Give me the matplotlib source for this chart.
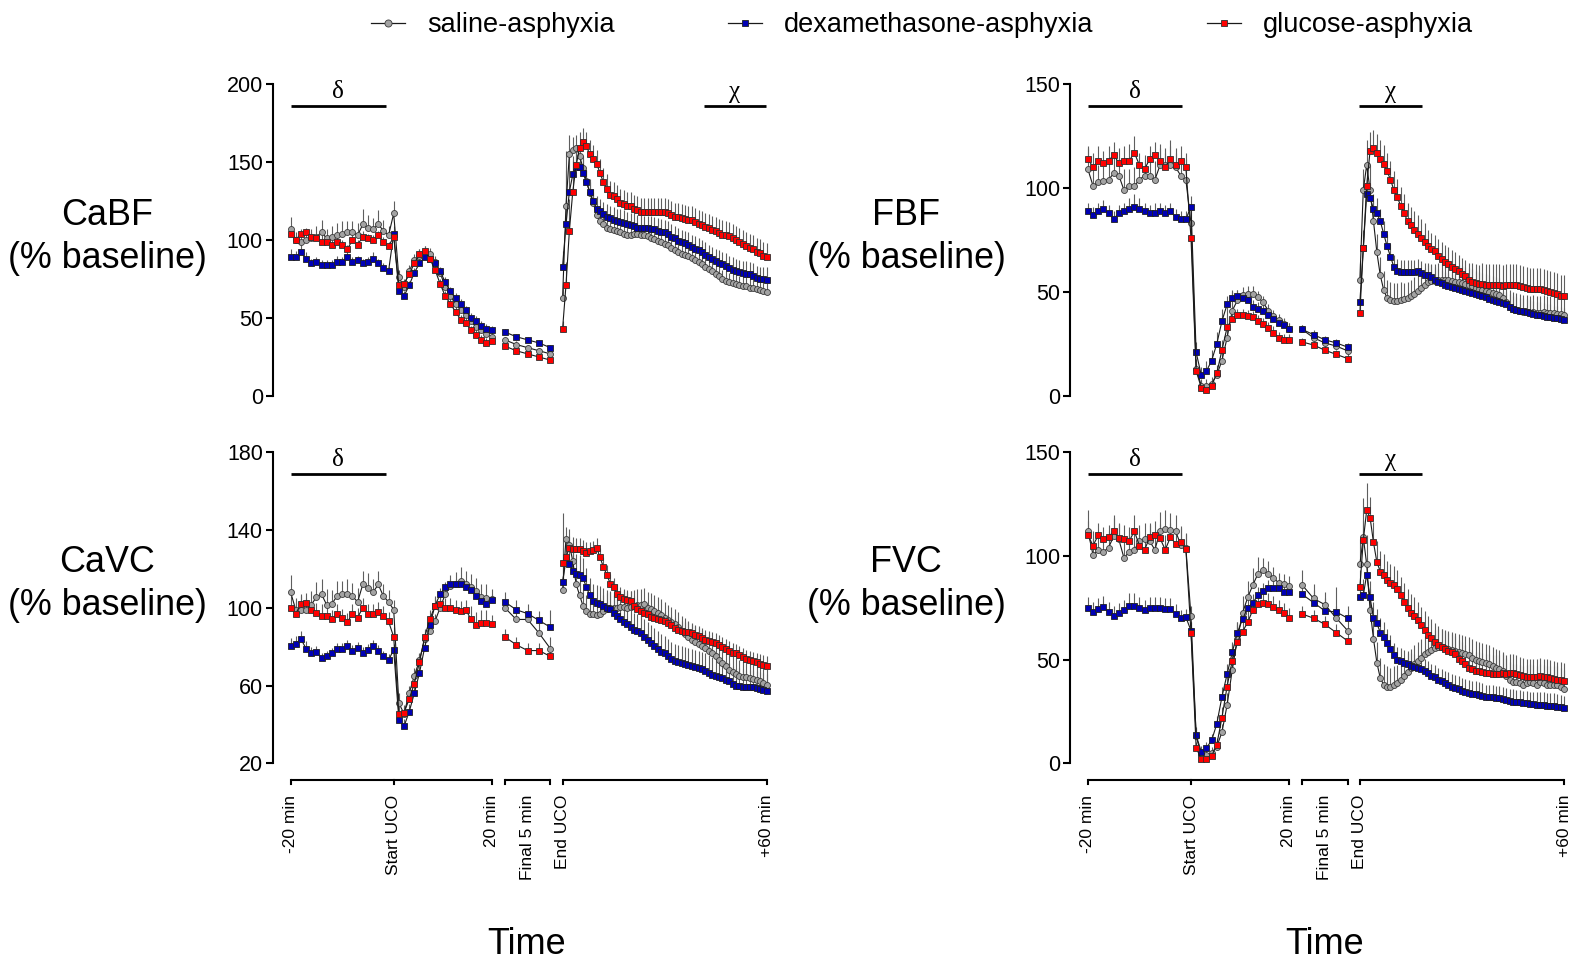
import matplotlib
matplotlib.use("Agg")
import matplotlib.pyplot as plt
from matplotlib.lines import Line2D

plt.rcParams['font.family'] = ['Liberation Sans', 'DejaVu Sans']

# ---------------- time bases ----------------
bu_minutes = list(range(-20, 20))      # baseline (-20..0) + UCO (1..19)
f5_index = [0, 1, 2, 3, 4]             # final 5 min of UCO
rec_minutes = list(range(0, 61))       # recovery 0..60 min

series_names = ["saline-asphyxia", "dexamethasone-asphyxia", "glucose-asphyxia"]

# ---------------- CaBF ----------------
cabf_saline_bu = [107, 100, 99, 100, 101, 102, 105, 101, 102, 103, 104, 105, 105, 103, 110, 108, 107, 110, 106, 103, 117,
                  76, 70, 80, 87, 90, 92, 91, 86, 79, 70, 64, 59, 55, 52, 48, 44, 42, 40, 38]
cabf_dex_bu = [89, 89, 92, 88, 85, 86, 84, 84, 84, 86, 86, 89, 86, 87, 85, 86, 88, 85, 82, 80, 104,
               67, 64, 71, 79, 85, 89, 88, 85, 80, 73, 67, 63, 59, 55, 50, 48, 45, 43, 42]
cabf_glu_bu = [104, 100, 104, 105, 102, 101, 99, 99, 97, 99, 97, 94, 100, 97, 102, 101, 100, 103, 99, 96, 102,
               71, 72, 78, 85, 91, 93, 88, 81, 72, 64, 59, 54, 49, 47, 42, 39, 36, 34, 35]
cabf_saline_f5 = [36, 33, 31, 29, 27]
cabf_dex_f5 = [41, 38, 36, 34, 31]
cabf_glu_f5 = [32, 29, 27, 25, 23]
cabf_saline_rec = [63, 122, 155, 158, 159, 154, 146, 138, 130, 124,
                   116, 112, 110, 108, 107, 106.5, 106, 105, 104, 103,
                   103, 104, 104, 103.5, 103, 102.5, 101.5, 100.5, 99.5, 98.5,
                   97.5, 96.5, 95, 93.5, 92, 91, 90.3, 89.5, 88.5, 87,
                   86, 84.5, 83, 81.5, 80, 78.5, 77, 75, 74, 73,
                   72.3, 71.7, 71.2, 70.8, 70.2, 69.5, 69, 68.7, 68, 67.3,
                   66.5]
cabf_dex_rec = [83, 110, 131, 142, 147, 147, 143, 137, 131, 125,
                120, 118.5, 116.5, 115, 114, 113, 112, 111.6, 111, 110,
                109.5, 109, 108, 108, 107.7, 107.5, 107.3, 107, 106, 105.3,
                105, 104, 102, 101, 99.5, 98.5, 97.8, 97, 95.5, 94.5,
                93.5, 92, 90.5, 89, 87.5, 86.5, 85.5, 84.5, 83.5, 82,
                81, 80, 79.3, 78.8, 78.5, 78, 77, 75.5, 75, 75,
                74.5]
cabf_glu_rec = [43, 71, 106, 131, 148, 159, 163, 160, 155, 152,
                149, 143, 137, 133, 129, 128, 126, 124, 123, 122,
                122, 120, 119, 118, 118, 118, 118, 118, 118, 118,
                118, 117, 116, 115, 114.5, 114, 113.5, 113, 112.5, 111.5,
                110.5, 109.5, 108.5, 107.5, 106.5, 105.5, 104.5, 103.5, 103, 102.5,
                101.5, 100, 99, 97.5, 96, 95, 94, 92.5, 91.5, 90,
                89]
cabf_saline_bu_sem = [8, 5, 6, 5, 6, 7, 8, 6, 7, 8, 8, 7, 7, 8, 10, 8, 7, 9, 7, 6, 8,
                      5, 4, 4, 4, 4, 4, 4, 4, 3, 3, 3, 3, 3, 3, 3, 3, 3, 3, 3]
cabf_dex_bu_sem = [5, 4, 5, 4, 3, 3, 3, 3, 3, 4, 3, 4, 3, 3, 3, 3, 4, 3, 3, 3, 5,
                   3, 3, 3, 3, 3, 3, 3, 3, 3, 3, 3, 3, 3, 3, 3, 3, 3, 3, 3]
cabf_glu_bu_sem = [4, 3, 3, 3, 3, 3, 4, 3, 3, 3, 3, 3, 3, 3, 4, 3, 3, 3, 3, 3, 4,
                   3, 3, 3, 3, 3, 3, 3, 3, 3, 3, 3, 3, 3, 3, 3, 3, 3, 3, 3]
cabf_saline_f5_sem = [2, 2, 2, 2, 2]
cabf_dex_f5_sem = [2, 2, 2, 2, 2]
cabf_glu_f5_sem = [2, 2, 2, 2, 2]
cabf_saline_rec_sem = [10, 35, 12, 8, 8, 8, 8, 7, 7, 7,
                       7, 7, 7, 7, 7, 7, 7, 7, 7, 7,
                       7, 7, 7, 7, 7, 7, 7, 7, 7, 7,
                       6, 6, 6, 6, 6, 6, 6, 6, 6, 6,
                       6, 6, 6, 6, 6, 6, 6, 6, 6, 6,
                       6, 6, 6, 6, 6, 6, 6, 6, 6, 6,
                       6]
cabf_dex_rec_sem = [10, 35, 25, 12, 10, 9, 9, 8, 8, 8,
                    8, 8, 8, 8, 8, 8, 8, 8, 8, 8,
                    8, 8, 8, 8, 8, 8, 8, 8, 8, 8,
                    8, 8, 8, 8, 8, 8, 8, 8, 8, 8,
                    8, 8, 8, 8, 8, 8, 8, 8, 8, 8,
                    8, 8, 8, 8, 8, 8, 8, 8, 8, 8,
                    8]
cabf_glu_rec_sem = [5, 15, 20, 20, 12, 10, 9, 9, 9, 9,
                    9, 9, 9, 9, 9, 9, 9, 9, 9, 9,
                    9, 9, 9, 9, 9, 9, 9, 9, 9, 9,
                    9, 9, 9, 9, 9, 9, 9, 9, 9, 9,
                    9, 9, 9, 9, 9, 9, 9, 9, 9, 9,
                    9, 9, 9, 9, 9, 9, 9, 9, 9, 9,
                    9]

# ---------------- FBF ----------------
fbf_saline_bu = [109, 101, 103, 103.5, 104, 107, 106, 99, 101, 101, 104, 106, 106, 104, 111, 111, 111, 110, 106, 104, 83,
                 13, 5, 5, 6, 10, 17, 28, 41, 46, 48.5, 49, 49, 47.5, 45, 41, 38.5, 36.5, 34.5, 32]
fbf_dex_bu = [89, 87, 89, 90, 88, 85, 88, 89, 90, 91, 90, 89, 88, 88, 89, 88, 89, 86, 85, 85, 91,
              21, 10, 12, 17, 25, 36, 44, 47, 48, 47, 46, 43, 42, 41, 39, 37, 35, 34, 32]
fbf_glu_bu = [114, 110, 113, 112, 113, 116, 112, 113, 113, 117, 111, 109, 114, 116, 113, 110, 114, 111, 113, 110, 76,
              12, 4, 3, 5, 11, 22, 33, 37, 39, 39, 38.5, 38, 36, 34.5, 32.5, 30.5, 28, 27, 27]
fbf_saline_f5 = [32, 28, 25.5, 24, 21.7]
fbf_dex_f5 = [32, 29.5, 27, 25.5, 23.5]
fbf_glu_f5 = [26, 24.5, 22, 20, 18]
fbf_saline_rec = [56, 99, 111, 99, 84, 69, 58, 51, 47, 46,
                  45.5, 45.5, 46, 46.5, 47, 48, 49, 50.5, 52, 53.5,
                  55, 55.5, 55.5, 56, 56, 56, 56, 55.5, 55, 55,
                  54.5, 54, 53.5, 53, 52, 51.5, 51, 50.5, 50, 49.5,
                  49, 48.5, 47, 45, 43, 42, 41.5, 41, 40.5, 40.5,
                  40, 40.5, 40, 40, 40.5, 40, 40, 40, 39.5, 39.5,
                  39]
fbf_dex_rec = [45, 71, 97, 95, 90, 88, 84, 78, 72, 67,
               62, 60, 59.5, 59.5, 59.5, 59.5, 59.5, 60, 59, 58,
               58, 57, 56, 55, 54.5, 53.5, 53, 52.5, 52, 51.5,
               51, 50.5, 50, 49.5, 49, 48.5, 48, 47.5, 46.5, 46,
               45.5, 45, 44.5, 44, 43, 42, 41.5, 41, 41, 40.5,
               40, 39.5, 39, 39, 38.5, 38, 38, 37.5, 37.5, 37,
               36.5]
fbf_glu_rec = [40, 71, 101, 118, 119, 117, 114, 111.5, 108, 104,
               99, 95.5, 91.5, 88, 84, 82, 80, 78, 76, 74,
               72, 70.5, 69.5, 67.5, 66, 64.5, 63.5, 62, 61, 60,
               58.5, 57.5, 56, 55, 54.5, 54, 54, 53.5, 53.5, 53.5,
               53.5, 53.5, 53, 53.5, 53.5, 53.5, 53.5, 53, 52.5, 52,
               51.5, 51.5, 51.5, 51.5, 51, 50.5, 50, 49.5, 49, 48,
               48]
fbf_saline_bu_sem = [10, 8, 8, 7, 8, 9, 8, 10, 8, 9, 8, 7, 8, 9, 10, 8, 12, 9, 9, 10, 8,
                     5, 3, 3, 3, 3, 4, 15, 10, 5, 4, 4, 4, 3, 3, 3, 3, 3, 3, 3]
fbf_dex_bu_sem = [4, 4, 4, 4, 4, 4, 4, 4, 5, 6, 5, 4, 4, 5, 4, 4, 4, 4, 4, 4, 5,
                  5, 4, 5, 5, 6, 6, 4, 3, 3, 3, 3, 3, 3, 3, 3, 3, 3, 3, 3]
fbf_glu_bu_sem = [6, 7, 7, 6, 7, 6, 7, 7, 8, 8, 6, 7, 6, 6, 6, 7, 6, 6, 7, 7, 6,
                  4, 3, 3, 3, 4, 5, 5, 4, 3, 3, 3, 3, 3, 3, 3, 3, 3, 3, 3]
fbf_saline_f5_sem = [2, 2, 2, 2, 2]
fbf_dex_f5_sem = [2, 2, 2, 2, 2]
fbf_glu_f5_sem = [2, 2, 2, 2, 2]
fbf_saline_rec_sem = [8, 10, 12, 12, 10, 9, 9, 9, 9, 9,
                      9, 9, 9, 8, 8, 8, 8, 8, 8, 8,
                      8, 8, 8, 8, 8, 8, 8, 8, 8, 8,
                      8, 8, 8, 8, 8, 8, 8, 8, 8, 8,
                      8, 8, 8, 8, 8, 8, 8, 8, 8, 8,
                      8, 8, 8, 8, 8, 8, 8, 8, 8, 8,
                      8]
fbf_dex_rec_sem = [5, 8, 8, 7, 7, 7, 6, 6, 6, 6,
                   6, 6, 6, 6, 6, 6, 6, 6, 6, 6,
                   6, 6, 6, 6, 6, 6, 6, 6, 6, 6,
                   6, 6, 6, 6, 6, 6, 6, 6, 6, 6,
                   6, 6, 6, 6, 6, 6, 6, 6, 6, 6,
                   6, 6, 6, 6, 6, 6, 6, 6, 6, 6,
                   6]
fbf_glu_rec_sem = [5, 9, 9, 9, 9, 9, 9, 9, 9, 9,
                   9, 9, 9, 9, 9, 9, 9, 9, 9, 9,
                   8, 8, 8, 8, 8, 8, 8, 8, 8, 8,
                   8, 8, 8, 9, 9, 9, 10, 10, 10, 10,
                   10, 10, 10, 10, 10, 10, 10, 10, 10, 10,
                   10, 10, 10, 10, 10, 10, 10, 10, 10, 10,
                   10]

# ---------------- CaVC ----------------
cavc_saline_bu = [108, 99, 99, 99, 101.5, 105.5, 107, 101.5, 102, 106, 107, 107, 106, 103, 112, 110, 108, 112, 106, 103, 99,
                  51, 45.5, 56, 65, 73, 84, 88, 93, 100, 107, 111, 112.5, 114, 112, 110.5, 108.5, 105.5, 105, 104.5]
cavc_dex_bu = [80.5, 81.5, 84, 79, 77, 77.5, 74, 75, 76.5, 79, 79, 80.5, 78, 79.5, 77, 78.5, 80.5, 78, 75, 73, 78.5,
               42.5, 39, 46.5, 56, 66.5, 79.5, 91, 101, 107, 110.5, 112, 112, 112, 110.5, 109, 106, 103.5, 102, 104]
cavc_glu_bu = [100, 97, 102, 102.5, 99, 97.5, 96, 96, 94, 97, 94.5, 92.5, 97, 95, 100, 97, 97, 98, 96, 93, 85,
               45.5, 46, 53, 61, 72, 85, 94, 101, 102, 100, 100, 99, 98.5, 99, 94, 91, 92, 92, 91.5]
cavc_saline_f5 = [100, 94, 94, 87, 79]
cavc_dex_f5 = [103, 99, 97, 93.5, 90]
cavc_glu_f5 = [85, 81, 78, 78, 75]
cavc_saline_rec = [109, 135.5, 132.5, 124, 112, 106.5, 101, 98.5, 97, 97,
                   96.5, 97, 98.5, 99.5, 100, 100, 100, 100.5, 100.5, 100,
                   100.5, 101, 101.5, 101.5, 102, 100, 99.5, 98.5, 97.5, 96.5,
                   95, 93.5, 92.5, 91.5, 90, 88, 86.5, 85, 83.5, 82.5,
                   81.5, 80.5, 79.5, 78, 76.5, 75, 73, 71.5, 70, 68,
                   67, 66, 65, 64.5, 64.5, 64, 63.5, 63, 62.5, 61.5,
                   60.5]
cavc_dex_rec = [113.5, 124.5, 122.5, 119, 117.5, 117, 115.5, 110.5, 106.5, 103.5,
                102.5, 102, 101, 100, 99.5, 97.5, 96, 94, 92.5, 91.5,
                90, 88.5, 88, 87, 85, 83.5, 82, 80.5, 79, 77.5,
                76.5, 75, 73.5, 72.5, 72, 71.5, 71, 70.5, 70, 69.5,
                69, 68.5, 67.5, 66.5, 65.5, 65, 64.5, 64, 63, 62.5,
                61, 60, 60, 59.5, 59, 59, 59, 58.5, 58, 57.5,
                57]
cavc_glu_rec = [123, 126, 131, 130.5, 130, 130, 129, 128, 129, 129.5,
                131, 126, 121, 117, 112.5, 110.5, 107, 105.5, 104.5, 104,
                103.5, 101, 99.5, 98.5, 97.5, 97, 95.5, 94.5, 94, 93.5,
                93, 92, 91, 89.5, 88.5, 88, 87.5, 87.5, 87, 86,
                85.5, 84.5, 83.5, 83, 82.5, 82, 81, 80, 79, 78,
                77, 76.5, 75.5, 74.5, 73.5, 73, 72.5, 72, 71, 70.5,
                70]
cavc_saline_bu_sem = [9, 6, 7, 6, 7, 8, 8, 8, 7, 8, 7, 8, 7, 7, 7, 8, 7, 7, 6, 6, 5,
                      5, 4, 4, 4, 4, 4, 4, 4, 5, 5, 6, 6, 7, 7, 7, 7, 7, 7, 5]
cavc_dex_bu_sem = [4, 4, 4, 4, 3, 3, 3, 3, 3, 3, 3, 3, 3, 3, 3, 3, 3, 3, 3, 3, 3,
                   4, 4, 4, 4, 4, 4, 4, 4, 3, 3, 3, 3, 3, 3, 3, 3, 3, 3, 3]
cavc_glu_bu_sem = [6, 6, 5, 5, 5, 5, 6, 6, 5, 5, 5, 5, 5, 5, 5, 5, 5, 5, 5, 5, 5,
                   4, 4, 4, 4, 4, 4, 5, 5, 5, 5, 5, 5, 5, 5, 7, 7, 7, 7, 5]
cavc_saline_f5_sem = [5, 5, 5, 5, 6]
cavc_dex_f5_sem = [5, 5, 5, 5, 9]
cavc_glu_f5_sem = [4, 4, 4, 4, 4]
cavc_saline_rec_sem = [40, 6, 8, 8, 8, 8, 8, 8, 8, 8,
                       8, 8, 8, 8, 8, 8, 8, 8, 8, 8,
                       8, 8, 8, 8, 8, 8, 8, 8, 8, 8,
                       8, 8, 8, 8, 8, 8, 8, 8, 8, 8,
                       8, 8, 8, 8, 8, 8, 8, 8, 8, 8,
                       8, 8, 8, 8, 8, 8, 8, 8, 8, 8,
                       8]
cavc_dex_rec_sem = [10, 10, 10, 10, 10, 10, 10, 10, 9, 9,
                    9, 9, 9, 9, 9, 9, 9, 9, 9, 9,
                    9, 9, 9, 9, 9, 9, 9, 9, 9, 9,
                    9, 9, 9, 9, 9, 9, 9, 9, 9, 9,
                    9, 9, 9, 9, 9, 9, 9, 9, 9, 9,
                    9, 9, 9, 9, 9, 9, 9, 9, 9, 9,
                    9]
cavc_glu_rec_sem = [8, 8, 6, 6, 6, 6, 6, 6, 5, 5,
                    5, 5, 5, 5, 5, 5, 5, 5, 5, 5,
                    5, 5, 5, 5, 5, 5, 5, 5, 5, 5,
                    5, 5, 5, 5, 5, 5, 5, 5, 5, 5,
                    5, 5, 5, 5, 5, 5, 5, 5, 5, 5,
                    5, 5, 5, 5, 5, 5, 5, 5, 5, 5,
                    5]

# ---------------- FVC ----------------
fvc_saline_bu = [112, 100.5, 103, 102, 104, 109.5, 108, 99, 102, 103, 107, 108, 107, 103, 112, 113, 112.5, 112, 105.5, 104, 71,
                 13, 4, 4, 5, 8, 15, 28, 45, 60, 72.5, 80, 86, 91.5, 93, 91.5, 89.5, 87, 86.5, 85.5]
fvc_dex_bu = [75, 73, 74.5, 75.5, 73, 71, 72.5, 74, 76, 76, 75, 74, 75, 75, 75, 74.5, 74.5, 72, 70, 70.5, 64,
              13.5, 5.5, 7.5, 11, 19, 32, 43, 53.5, 63, 69.5, 75, 77.5, 81, 83, 84.5, 84.5, 84.5, 82.5, 82.5]
fvc_glu_bu = [110, 105, 110, 108, 109, 112, 108.5, 108, 107, 112, 105, 103, 109, 110, 108.5, 103, 109, 106, 106.5, 103.5, 63,
              7.5, 2, 2, 3.5, 9, 22, 37, 49.5, 58.5, 63.5, 68, 74, 77, 77.5, 77, 75.5, 74, 72.5, 70]
fvc_saline_f5 = [86, 79.5, 76.5, 70, 64]
fvc_dex_f5 = [81.5, 77.5, 73.5, 73, 70]
fvc_glu_f5 = [72, 70, 67, 63, 59]
fvc_saline_rec = [96, 109, 96, 74, 60, 48.5, 41, 38, 37, 37,
                  38, 38.5, 40, 42, 44, 46, 48, 49.5, 51, 52.5,
                  53.5, 54.5, 55.5, 56, 56, 55.5, 55, 54.5, 54, 53.5,
                  53, 52.5, 52, 51, 50, 49.5, 49, 48.5, 48, 47,
                  46, 45.5, 44.5, 42, 40, 39, 39, 38.5, 38, 38.5,
                  39, 38.5, 38, 39, 38.5, 38, 38, 38, 38, 37,
                  36]
fvc_dex_rec = [80, 81, 91, 80, 70, 67.5, 63, 61, 58, 55,
               52, 50, 49.5, 48.5, 48, 47, 46.5, 46, 45.5, 44.5,
               43.5, 42, 41.5, 40, 39.5, 38.5, 38, 37, 36.5, 36,
               35, 34.5, 34, 33.5, 33.5, 33, 32.5, 32, 32, 31.8,
               31.5, 31.5, 31, 30.5, 30, 29.8, 29.5, 29.5, 29, 29,
               28.6, 28.6, 28.2, 28.2, 28.2, 27.8, 27.8, 27.8, 27.3, 27,
               26.6]
fvc_glu_rec = [85, 107.5, 122, 118.5, 106.5, 97, 92.5, 91, 88.5, 87,
               86, 84, 81, 78, 75, 72.5, 71, 69, 66.5, 64.5,
               62, 60.5, 58.5, 57, 56, 55, 54, 53.5, 52.5, 50.5,
               49.5, 48, 46, 45.5, 44.5, 44.5, 44, 43.5, 43.5, 43,
               43, 43, 43.5, 43, 43.5, 43.5, 43, 42.5, 42, 41.5,
               41.5, 41.5, 41.5, 42, 41.5, 41.5, 41, 40.5, 40, 40,
               39.5]
fvc_saline_bu_sem = [10, 8, 8, 7, 8, 9, 8, 9, 8, 9, 8, 8, 8, 9, 9, 9, 8, 8, 9, 7, 5,
                     4, 3, 3, 3, 3, 4, 6, 8, 8, 8, 8, 8, 8, 6, 6, 5, 5, 5, 5]
fvc_dex_bu_sem = [5, 5, 5, 5, 5, 5, 5, 5, 6, 6, 5, 5, 5, 5, 5, 5, 5, 5, 4, 4, 4,
                  4, 3, 3, 3, 4, 5, 5, 5, 5, 5, 5, 4, 4, 4, 4, 4, 4, 4, 4]
fvc_glu_bu_sem = [7, 7, 6, 6, 6, 8, 7, 7, 7, 8, 7, 7, 7, 7, 7, 7, 7, 7, 7, 7, 5,
                  3, 2, 2, 2, 3, 5, 7, 8, 8, 7, 6, 6, 5, 5, 5, 5, 5, 5, 5]
fvc_saline_f5_sem = [7, 7, 6, 6, 6]
fvc_dex_f5_sem = [6, 6, 6, 12, 6]
fvc_glu_f5_sem = [4, 4, 4, 4, 4]
fvc_saline_rec_sem = [12, 19, 14, 10, 10, 10, 10, 10, 10, 9,
                      9, 9, 9, 9, 9, 9, 9, 9, 9, 9,
                      9, 9, 9, 9, 9, 9, 9, 9, 9, 9,
                      9, 9, 9, 9, 9, 9, 9, 9, 9, 9,
                      9, 9, 9, 9, 9, 9, 9, 9, 9, 9,
                      9, 9, 9, 9, 9, 9, 9, 9, 9, 9,
                      9]
fvc_dex_rec_sem = [5, 8, 8, 8, 8, 7, 7, 7, 7, 7,
                   6, 6, 6, 6, 6, 6, 6, 6, 6, 6,
                   6, 6, 6, 6, 6, 6, 6, 6, 6, 6,
                   6, 6, 6, 6, 6, 6, 6, 6, 6, 6,
                   6, 6, 6, 6, 6, 6, 6, 6, 6, 6,
                   6, 6, 6, 6, 6, 6, 6, 6, 6, 6,
                   6]
fvc_glu_rec_sem = [8, 10, 13, 10, 10, 10, 10, 10, 9, 9,
                   9, 9, 9, 9, 9, 9, 9, 9, 9, 9,
                   9, 9, 9, 9, 9, 9, 9, 9, 9, 9,
                   9, 9, 9, 9, 9, 9, 9, 9, 9, 9,
                   9, 9, 9, 9, 9, 9, 9, 9, 9, 9,
                   9, 9, 9, 9, 9, 9, 9, 9, 9, 9,
                   9]

# ---------------- layout helpers ----------------
W, H = 1583, 965
fig = plt.figure(figsize=(W / 100, H / 100), dpi=100)

PX_PER_UNIT = 5.155
XMIN, XMAX = -23.5, 73.5


def pos_bu(m):
    return m


def pos_f5(i):
    return 21.57 + 2.205 * i


def pos_rec(m):
    return 32.76 + 0.66 * m


STYLES = [
    dict(marker='o', mfc='#a3a3a3', mec='#3a3a3a', ms=4.3),
    dict(marker='s', mfc='#0000b4', mec='#202020', ms=4.1),
    dict(marker='s', mfc='#ff0000', mec='#303030', ms=4.1),
]


def add_ax(left, top, width, height):
    return fig.add_axes([left / W, 1 - (top + height) / H, width / W, height / H])


def style_ax(ax, ylim, yticks):
    ax.set_xlim(XMIN, XMAX)
    ax.set_ylim(*ylim)
    ax.set_yticks(yticks)
    for s in ['top', 'right', 'bottom']:
        ax.spines[s].set_visible(False)
    ax.spines['left'].set_linewidth(1.5)
    ax.set_xticks([])
    ax.tick_params(axis='y', direction='out', length=5, width=1.5, labelsize=15.5, pad=2)
    ax.patch.set_alpha(0)


def draw_series(ax, k, bu, f5, rec, bu_sem, f5_sem, rec_sem):
    st = STYLES[k]
    segs = [
        ([pos_bu(m) for m in bu_minutes], bu, bu_sem),
        ([pos_f5(i) for i in f5_index], f5, f5_sem),
        ([pos_rec(m) for m in rec_minutes], rec, rec_sem),
    ]
    for xs, ys, es in segs:
        ax.vlines(xs, ys, [y + e for y, e in zip(ys, es)], colors='#5e5e5e',
                  linewidth=0.8, zorder=2, clip_on=False)
        ax.plot(xs, ys, color='#1a1a1a', lw=0.8, marker=st['marker'], ms=st['ms'],
                mfc=st['mfc'], mec=st['mec'], mew=0.6, zorder=3 + k, clip_on=False)


def bar_label(ax, x0, x1, sym):
    tr = ax.get_xaxis_transform()
    ax.plot([x0, x1], [0.929, 0.929], transform=tr, color='k', lw=2.0,
            solid_capstyle='butt', clip_on=False)
    ax.text((x0 + x1) / 2, 0.975, sym, transform=tr, ha='center', va='center',
            fontsize=18, family=['Liberation Serif', 'DejaVu Serif'])


def time_axis(ax, h_px):
    tr = ax.get_xaxis_transform()
    y0 = -16.5 / h_px
    tick = 4.5 / h_px
    segments = [(pos_bu(-20), pos_bu(19), [pos_bu(-20), pos_bu(0), pos_bu(19)]),
                (pos_f5(0), pos_f5(4), [pos_f5(0), pos_f5(4)]),
                (pos_rec(0), pos_rec(60), [pos_rec(0), pos_rec(60)])]
    for a, b, tks in segments:
        ax.plot([a, b], [y0, y0], transform=tr, color='k', lw=1.5, clip_on=False,
                solid_capstyle='butt')
        for t in tks:
            ax.plot([t, t], [y0, y0 - tick], transform=tr, color='k', lw=1.5,
                    clip_on=False)
    labels = [(pos_bu(-20), '-20 min'), (pos_bu(0), 'Start UCO'), (pos_bu(19), '20 min'),
              ((pos_f5(0) + pos_f5(4)) / 2, 'Final 5 min'), (pos_rec(0), 'End UCO'),
              (pos_rec(60), '+60 min')]
    for x, s in labels:
        ax.text(x, y0 - 15 / h_px, s, transform=tr, rotation=90, ha='center', va='top',
                fontsize=12.5)


AX_W = (XMAX - XMIN) * PX_PER_UNIT
LEFT_L = 393.7 + XMIN * PX_PER_UNIT
LEFT_R = 1191.0 + XMIN * PX_PER_UNIT

panels = [
    dict(rect=(LEFT_L, 84, AX_W, 312), ylim=(0, 200), yticks=[0, 50, 100, 150, 200],
         data=[(cabf_saline_bu, cabf_saline_f5, cabf_saline_rec, cabf_saline_bu_sem, cabf_saline_f5_sem, cabf_saline_rec_sem),
               (cabf_dex_bu, cabf_dex_f5, cabf_dex_rec, cabf_dex_bu_sem, cabf_dex_f5_sem, cabf_dex_rec_sem),
               (cabf_glu_bu, cabf_glu_f5, cabf_glu_rec, cabf_glu_bu_sem, cabf_glu_f5_sem, cabf_glu_rec_sem)],
         bars=[(-20, -1.55, 'δ'), (60.1, 72.3, 'χ')], xaxis=False),
    dict(rect=(LEFT_R, 84, AX_W, 312), ylim=(0, 150), yticks=[0, 50, 100, 150],
         data=[(fbf_saline_bu, fbf_saline_f5, fbf_saline_rec, fbf_saline_bu_sem, fbf_saline_f5_sem, fbf_saline_rec_sem),
               (fbf_dex_bu, fbf_dex_f5, fbf_dex_rec, fbf_dex_bu_sem, fbf_dex_f5_sem, fbf_dex_rec_sem),
               (fbf_glu_bu, fbf_glu_f5, fbf_glu_rec, fbf_glu_bu_sem, fbf_glu_f5_sem, fbf_glu_rec_sem)],
         bars=[(-20, -1.8, 'δ'), (32.5, 44.8, 'χ')], xaxis=False),
    dict(rect=(LEFT_L, 452.3, AX_W, 311), ylim=(20, 180), yticks=[20, 60, 100, 140, 180],
         data=[(cavc_saline_bu, cavc_saline_f5, cavc_saline_rec, cavc_saline_bu_sem, cavc_saline_f5_sem, cavc_saline_rec_sem),
               (cavc_dex_bu, cavc_dex_f5, cavc_dex_rec, cavc_dex_bu_sem, cavc_dex_f5_sem, cavc_dex_rec_sem),
               (cavc_glu_bu, cavc_glu_f5, cavc_glu_rec, cavc_glu_bu_sem, cavc_glu_f5_sem, cavc_glu_rec_sem)],
         bars=[(-20, -1.55, 'δ')], xaxis=True),
    dict(rect=(LEFT_R, 452.3, AX_W, 311), ylim=(0, 150), yticks=[0, 50, 100, 150],
         data=[(fvc_saline_bu, fvc_saline_f5, fvc_saline_rec, fvc_saline_bu_sem, fvc_saline_f5_sem, fvc_saline_rec_sem),
               (fvc_dex_bu, fvc_dex_f5, fvc_dex_rec, fvc_dex_bu_sem, fvc_dex_f5_sem, fvc_dex_rec_sem),
               (fvc_glu_bu, fvc_glu_f5, fvc_glu_rec, fvc_glu_bu_sem, fvc_glu_f5_sem, fvc_glu_rec_sem)],
         bars=[(-20, -1.8, 'δ'), (32.5, 44.8, 'χ')], xaxis=True),
]

for p in panels:
    ax = add_ax(*p['rect'])
    style_ax(ax, p['ylim'], p['yticks'])
    for k, d in enumerate(p['data']):
        draw_series(ax, k, *d)
    for x0, x1, sym in p['bars']:
        bar_label(ax, x0, x1, sym)
    if p['xaxis']:
        time_axis(ax, p['rect'][3])

# y labels
ylab = dict(ha='center', va='center', fontsize=25.8, linespacing=1.3, multialignment='center')
fig.text(107 / W, 1 - 237 / H, 'CaBF\n(% baseline)', **ylab)
fig.text(906 / W, 1 - 237 / H, 'FBF\n(% baseline)', **ylab)
fig.text(107 / W, 1 - 584 / H, 'CaVC\n(% baseline)', **ylab)
fig.text(906 / W, 1 - 584 / H, 'FVC\n(% baseline)', **ylab)

# Time labels
fig.text(527 / W, 1 - 945 / H, 'Time', ha='center', va='center', fontsize=26)
fig.text(1325 / W, 1 - 945 / H, 'Time', ha='center', va='center', fontsize=26)

# legend
handles = [Line2D([0], [0], color='#1a1a1a', lw=0.9, marker=s['marker'], ms=s['ms'] + 0.8,
                  mfc=s['mfc'], mec=s['mec'], mew=0.6) for s in STYLES]
fig.legend(handles, series_names, loc='center', bbox_to_anchor=(922 / W, 1 - 25 / H),
           ncol=3, frameon=False, fontsize=19.5, handlelength=1.25, handletextpad=0.8,
           columnspacing=4.2, borderpad=0.2)

fig.savefig('out.png', dpi=100)
